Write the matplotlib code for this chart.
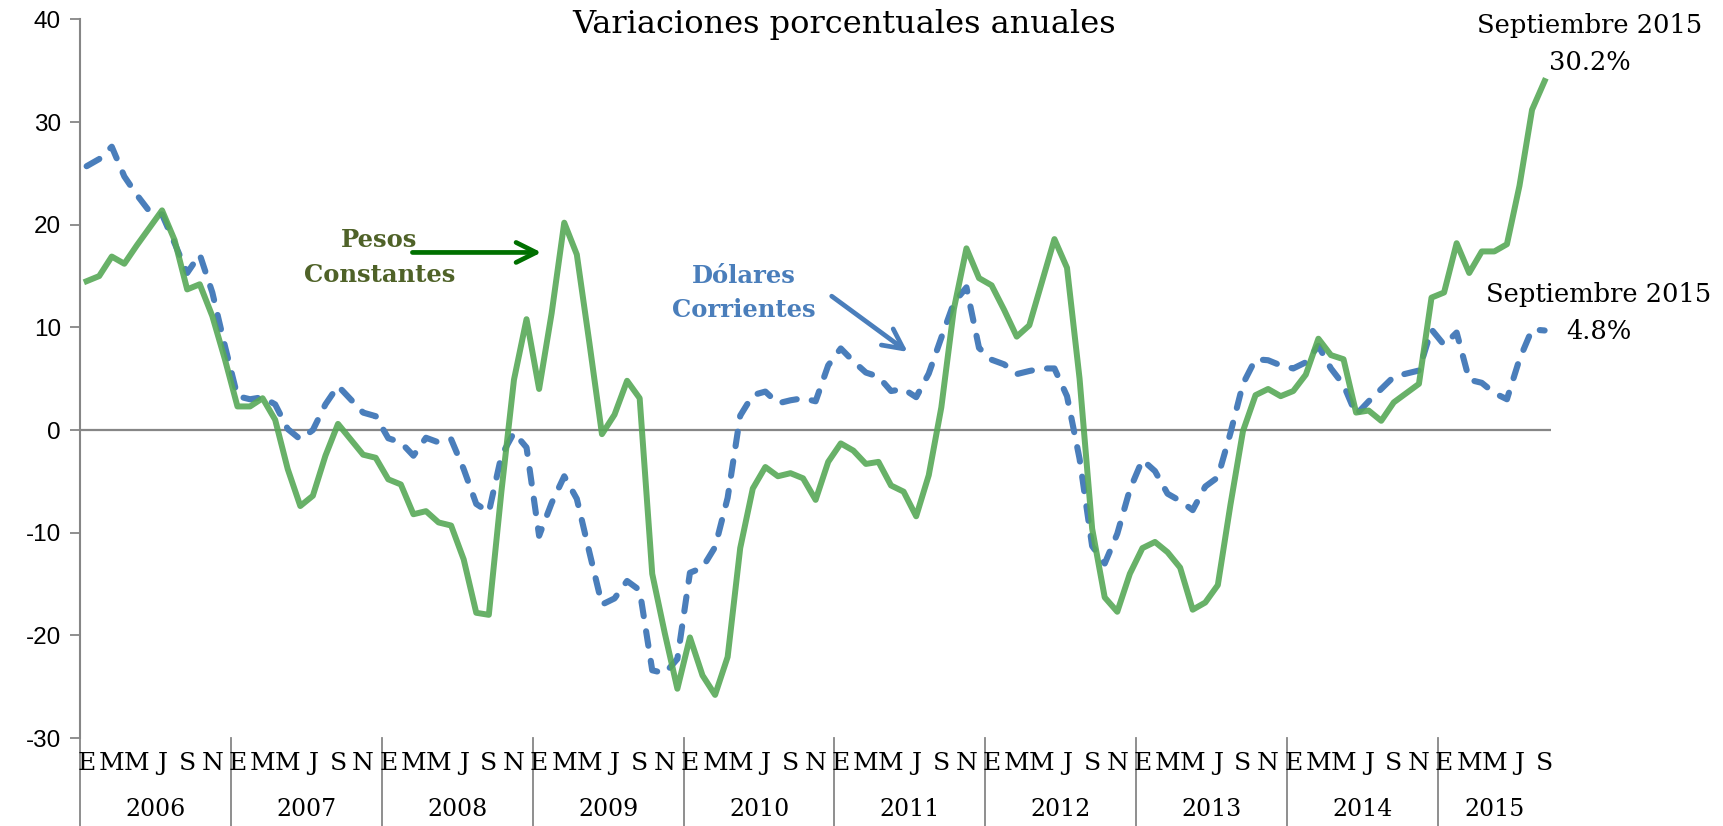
"""
Variaciones porcentuales anuales, pesos constantes vs dolares corrientes.
Monthly series, Jan 2006 - Sep 2015 (117 points).
"""

import matplotlib
matplotlib.use("Agg")
import matplotlib.pyplot as plt
import matplotlib.transforms as mtransforms
import numpy as np


YEARS = ["2006", "2007", "2008", "2009", "2010", "2011", "2012", "2013", "2014", "2015"]
MONTH_LETTERS = ["E", "F", "M", "A", "M", "J", "J", "A", "S", "O", "N", "D"]

# Pesos constantes (annual % change), one value per month
PESOS_CONSTANTES = [
    14.5, 15.0, 16.9, 16.2, 18.0, 19.7, 21.4, 18.5, 13.7, 14.2, 11.1, 6.9,        # 2006
    2.3, 2.3, 3.1, 1.0, -3.8, -7.4, -6.4, -2.5, 0.6, -0.9, -2.4, -2.7,            # 2007
    -4.8, -5.3, -8.2, -7.9, -9.0, -9.3, -12.6, -17.8, -18.0, -6.0, 4.9, 10.8,     # 2008
    4.0, 11.4, 20.2, 17.1, 8.5, -0.4, 1.5, 4.8, 3.1, -14.0, -19.8, -25.2,         # 2009
    -20.2, -23.9, -25.8, -22.1, -11.5, -5.7, -3.6, -4.5, -4.2, -4.7, -6.8, -3.1,  # 2010
    -1.3, -2.0, -3.3, -3.1, -5.4, -6.0, -8.4, -4.4, 2.2, 11.8, 17.7, 14.8,        # 2011
    14.1, 11.7, 9.1, 10.2, 14.4, 18.6, 15.8, 5.0, -9.6, -16.3, -17.7, -14.0,      # 2012
    -11.5, -10.9, -11.9, -13.4, -17.5, -16.8, -15.1, -7.3, -0.1, 3.4, 4.0, 3.3,   # 2013
    3.8, 5.4, 8.9, 7.3, 6.9, 1.7, 1.9, 0.9, 2.7, 3.6, 4.5, 12.9,                  # 2014
    13.4, 18.2, 15.3, 17.4, 17.4, 18.1, 23.8, 31.2, 34.0,                         # 2015
]

# Dolares corrientes (annual % change)
DOLARES_CORRIENTES = [
    25.7, 26.4, 27.6, 24.7, 22.9, 21.3, 21.0, 18.2, 15.3, 17.1, 13.4, 8.2,        # 2006
    3.3, 3.0, 3.2, 2.5, 0.1, -0.9, 0.0, 2.5, 4.3, 3.0, 1.7, 1.35,                 # 2007
    -0.8, -1.2, -2.5, -0.75, -1.2, -0.9, -3.8, -7.2, -8.0, -2.5, -0.25, -1.7,     # 2008
    -10.3, -7.1, -4.5, -6.7, -11.9, -17.0, -16.4, -14.7, -15.6, -23.4, -23.7, -22.3,  # 2009
    -13.9, -13.4, -11.4, -6.6, 1.4, 3.4, 3.75, 2.6, 2.9, 3.1, 2.8, 6.3,           # 2010
    7.95, 6.7, 5.6, 5.2, 3.8, 4.0, 3.2, 5.5, 9.0, 12.4, 13.9, 8.0,                # 2011
    6.85, 6.4, 5.45, 5.75, 6.0, 6.0, 3.3, -2.8, -11.3, -13.0, -10.1, -5.8,        # 2012
    -2.9, -4.0, -6.2, -6.9, -7.8, -5.5, -4.6, -0.3, 4.5, 6.9, 6.8, 6.3,           # 2013
    6.0, 6.6, 8.2, 6.0, 4.4, 1.5, 2.8, 4.0, 5.2, 5.5, 5.8, 9.8,                   # 2014
    8.3, 9.5, 4.9, 4.6, 3.6, 3.0, 6.9, 9.8, 9.7,                                  # 2015
]

Y_TICKS = [-30, -20, -10, 0, 10, 20, 30, 40]

LABEL_PESOS = "Pesos\nConstantes"
LABEL_DOLARES = "Dólares\nCorrientes"
LABEL_END_PESOS = "Septiembre 2015\n30.2%"
LABEL_END_DOLARES = "Septiembre 2015\n4.8%"
TITLE = "Variaciones porcentuales anuales"

SERIF = "DejaVu Serif"
SANS = "Liberation Sans"
GREEN = "#57a957"
BLUE = "#4a7ebb"
GREY = "#868686"


def build_axes():
    fig = plt.figure(figsize=(17.24, 8.26), dpi=100)
    ax = fig.add_axes([0.0466, 0.1065, 0.853, 0.870])
    return fig, ax


def draw_categories(ax, n):
    """Month letters every other month, year labels and year separators
    below the plot, Excel style."""
    trans = mtransforms.blended_transform_factory(ax.transData, ax.transAxes)
    for i in range(n):
        if i % 2 == 0:
            ax.text(i, -0.036, MONTH_LETTERS[i % 12], transform=trans,
                    ha="center", va="center", fontsize=18, family=SERIF,
                    clip_on=False)
    for k, year in enumerate(YEARS):
        start = k * 12 - 0.5
        end = min(start + 12, n - 0.5)
        ax.text((start + end) / 2, -0.099, year, transform=trans,
                ha="center", va="center", fontsize=17, family=SERIF,
                clip_on=False)
        ax.plot([start, start], [0, -0.14], transform=trans, color=GREY,
                lw=1.3, clip_on=False)


def main():
    fig, ax = build_axes()
    n = len(PESOS_CONSTANTES)
    x = np.arange(n)

    ax.axhline(0, color=GREY, lw=1.6, zorder=1)
    ax.plot(x, DOLARES_CORRIENTES, color=BLUE, lw=4.4, dashes=(2.4, 2.5),
            dash_capstyle="round", solid_joinstyle="round", zorder=2)
    ax.plot(x, PESOS_CONSTANTES, color=GREEN, lw=4.3, alpha=0.9,
            solid_joinstyle="round", zorder=3)

    ax.set_xlim(-0.5, n - 0.5)
    ax.set_ylim(-30, 40)
    ax.set_yticks(Y_TICKS)
    ax.set_yticklabels([str(t) for t in Y_TICKS], family=SANS, fontsize=17.5)
    ax.tick_params(axis="y", direction="out", length=7, width=1.3,
                   color=GREY, pad=7)
    ax.set_xticks([])
    for side in ["top", "right", "bottom"]:
        ax.spines[side].set_visible(False)
    ax.spines["left"].set_color(GREY)
    ax.spines["left"].set_linewidth(1.5)

    draw_categories(ax, n)

    fig.text(0.4896, 0.970, TITLE, ha="center", va="center",
             fontsize=23, family=SERIF)

    # series labels with arrows
    ax.text(23.3, 16.8, LABEL_PESOS, ha="center", va="center", fontsize=17.5,
            fontweight="bold", family=SERIF, color="#4f6228", linespacing=1.6)
    ax.annotate("", xy=(36.4, 17.3), xytext=(25.7, 17.3),
                arrowprops=dict(arrowstyle="->", color="#007000", lw=3.4,
                                mutation_scale=36))
    ax.text(52.3, 13.35, LABEL_DOLARES, ha="center", va="center", fontsize=17.5,
            fontweight="bold", family=SERIF, color=BLUE, linespacing=1.55)
    ax.annotate("", xy=(65.5, 7.45), xytext=(59.1, 13.2),
                arrowprops=dict(arrowstyle="->", color=BLUE, lw=3.4,
                                mutation_scale=36))

    # end-of-series annotations
    ax.text(119.6, 37.6, LABEL_END_PESOS, ha="center", va="center",
            fontsize=18.5, family=SERIF, linespacing=1.6, clip_on=False)
    ax.text(120.3, 11.4, LABEL_END_DOLARES, ha="center", va="center",
            fontsize=18.5, family=SERIF, linespacing=1.6, clip_on=False)

    fig.savefig("out.png", dpi=100)
    plt.close(fig)


if __name__ == "__main__":
    main()
